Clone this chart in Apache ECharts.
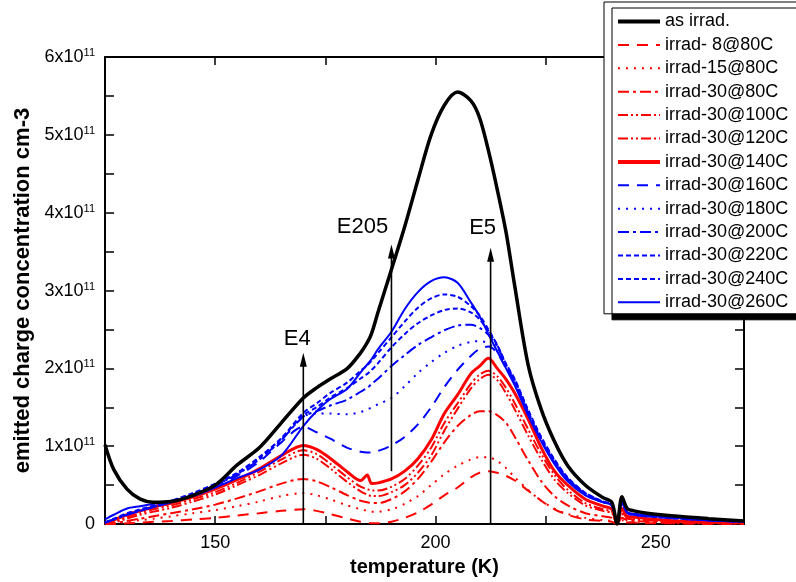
<!DOCTYPE html>
<html>
<head>
<meta charset="utf-8">
<script src="https://cdn.jsdelivr.net/npm/echarts@6/dist/echarts.min.js"></script>
<style>html,body{margin:0;padding:0;background:#fff;}#c{width:796px;height:582px;}</style>
</head>
<body>
<div id="c"></div>
<script>
var temperature = [125,127,130,133,136,140,145,150,155,160,165,170,173,176,180,183,184.5,185.5,187,190,193,196,199,202,205,208,210,212,214,216,218,221,224,227,230,234,238,240,241.2,242.3,243.5,245,248,255,262,270];

var asIrrad = [1.02,0.7,0.45,0.32,0.28,0.29,0.37,0.5,0.76,0.98,1.3,1.62,1.75,1.86,2.0,2.2,2.33,2.45,2.73,3.27,3.82,4.42,5.0,5.38,5.55,5.44,5.22,4.8,4.3,3.75,3.05,2.05,1.47,1.06,0.75,0.5,0.34,0.28,0.0,0.35,0.2,0.17,0.14,0.1,0.07,0.04];
var irrad8at80 = [0,0,0.01,0.02,0.03,0.04,0.06,0.08,0.11,0.14,0.17,0.19,0.17,0.13,0.07,0.03,0.02,0.01,0.01,0.03,0.08,0.15,0.25,0.37,0.47,0.6,0.66,0.68,0.66,0.62,0.56,0.43,0.3,0.19,0.12,0.06,0.04,0.03,0,0.03,0.02,0.02,0.01,0.01,0,0];
var irrad15at80 = [0,0.01,0.03,0.05,0.07,0.1,0.14,0.18,0.23,0.29,0.36,0.4,0.37,0.32,0.24,0.19,0.17,0.16,0.16,0.19,0.26,0.36,0.5,0.64,0.75,0.83,0.86,0.86,0.81,0.72,0.6,0.44,0.3,0.2,0.13,0.08,0.05,0.04,0,0.05,0.03,0.02,0.02,0.01,0.01,0];
var irrad30at80 = [0,0.01,0.04,0.07,0.1,0.14,0.19,0.25,0.33,0.42,0.52,0.58,0.55,0.48,0.37,0.3,0.28,0.27,0.27,0.32,0.42,0.58,0.8,1.05,1.26,1.4,1.45,1.45,1.4,1.3,1.12,0.82,0.55,0.36,0.24,0.14,0.1,0.08,0,0.08,0.05,0.04,0.03,0.02,0.01,0.01];
var irrad30at100 = [0,0.02,0.07,0.12,0.16,0.21,0.29,0.38,0.5,0.63,0.78,0.89,0.84,0.72,0.54,0.42,0.38,0.36,0.36,0.41,0.5,0.66,0.88,1.2,1.48,1.74,1.86,1.92,1.85,1.68,1.47,1.14,0.83,0.57,0.4,0.24,0.17,0.14,0,0.13,0.07,0.06,0.05,0.03,0.02,0.01];
var irrad30at120 = [0,0.03,0.09,0.14,0.19,0.24,0.32,0.41,0.53,0.67,0.83,0.95,0.9,0.78,0.6,0.48,0.45,0.43,0.43,0.48,0.58,0.75,0.98,1.3,1.55,1.8,1.92,1.97,1.9,1.75,1.55,1.22,0.9,0.63,0.44,0.27,0.19,0.16,0,0.15,0.08,0.07,0.05,0.03,0.02,0.01];
var irrad30at140 = [0,0.05,0.12,0.17,0.22,0.27,0.35,0.45,0.57,0.71,0.88,1.01,0.96,0.85,0.67,0.56,0.63,0.52,0.53,0.58,0.68,0.84,1.08,1.42,1.66,1.93,2.03,2.13,2.0,1.86,1.68,1.35,0.98,0.68,0.5,0.32,0.23,0.19,0,0.2,0.1,0.09,0.07,0.04,0.03,0.02];
var irrad30at160 = [0.02,0.06,0.12,0.17,0.22,0.28,0.38,0.49,0.62,0.8,1.05,1.25,1.18,1.1,0.98,0.93,0.92,0.92,0.94,1.01,1.12,1.28,1.5,1.76,1.98,2.16,2.25,2.28,2.2,2.0,1.8,1.42,1.07,0.79,0.57,0.38,0.28,0.24,0,0.28,0.14,0.12,0.1,0.07,0.05,0.03];
var irrad30at180 = [0.02,0.06,0.12,0.17,0.22,0.28,0.38,0.5,0.64,0.83,1.08,1.38,1.42,1.42,1.41,1.44,1.47,1.5,1.54,1.62,1.77,1.94,2.08,2.2,2.29,2.34,2.35,2.32,2.22,2.02,1.8,1.42,1.07,0.79,0.57,0.38,0.28,0.24,0,0.28,0.14,0.12,0.1,0.07,0.05,0.03];
var irrad30at200 = [0.02,0.06,0.12,0.17,0.22,0.28,0.38,0.5,0.64,0.83,1.08,1.38,1.45,1.52,1.6,1.7,1.75,1.8,1.87,2.03,2.17,2.3,2.4,2.49,2.55,2.56,2.52,2.43,2.28,2.04,1.82,1.43,1.08,0.8,0.58,0.39,0.28,0.25,0,0.28,0.14,0.12,0.1,0.07,0.05,0.03];
var irrad30at220 = [0.02,0.06,0.13,0.18,0.23,0.29,0.39,0.51,0.65,0.85,1.1,1.4,1.5,1.62,1.75,1.87,1.93,1.98,2.07,2.27,2.44,2.58,2.68,2.75,2.77,2.72,2.63,2.48,2.3,2.05,1.85,1.45,1.1,0.82,0.59,0.4,0.29,0.25,0,0.29,0.15,0.13,0.11,0.08,0.05,0.03];
var irrad30at240 = [0.02,0.07,0.14,0.19,0.24,0.3,0.4,0.52,0.66,0.86,1.1,1.43,1.55,1.68,1.82,1.97,2.04,2.1,2.2,2.4,2.6,2.78,2.9,2.95,2.92,2.8,2.68,2.5,2.3,2.06,1.86,1.47,1.12,0.83,0.6,0.4,0.29,0.25,0,0.29,0.15,0.13,0.11,0.08,0.05,0.03];
var irrad30at260 = [0.06,0.12,0.2,0.23,0.26,0.3,0.36,0.47,0.59,0.7,0.88,1.26,1.45,1.6,1.74,1.95,2.05,2.12,2.25,2.47,2.76,2.98,3.12,3.17,3.1,2.85,2.67,2.44,2.22,2.0,1.78,1.4,1.06,0.77,0.55,0.37,0.28,0.24,0,0.3,0.15,0.13,0.11,0.08,0.05,0.03];

var seriesNames = ['as irrad.','irrad- 8@80C','irrad-15@80C','irrad-30@80C','irrad-30@100C','irrad-30@120C','irrad-30@140C','irrad-30@160C','irrad-30@180C','irrad-30@200C','irrad-30@220C','irrad-30@240C','irrad-30@260C'];
var seriesValues = [asIrrad,irrad8at80,irrad15at80,irrad30at80,irrad30at100,irrad30at120,irrad30at140,irrad30at160,irrad30at180,irrad30at200,irrad30at220,irrad30at240,irrad30at260];

var xTickLabels = [150,200,250];
var arrowT = [170,190,212.5];
var arrowBase = [0,0.68,0];
var arrowTip = [2.2,3.59,3.55];
var arrowLabels = ['E4','E205','E5'];

var FONT = 'Liberation Sans, Arial, sans-serif';
var RED = '#ff0000', BLUE = '#0000ff', BLACK = '#000000';
var styles = [
  {color:BLACK, width:3.5, type:'solid', lw:4},
  {color:RED, width:2, type:[11,8], lw:2},
  {color:RED, width:2, type:[2,6], lw:2},
  {color:RED, width:2, type:[11,4,3,4], lw:2},
  {color:RED, width:2, type:[10,3,2,3,2,3], lw:2},
  {color:RED, width:2, type:[10,3,2,3,2,3], lw:2},
  {color:RED, width:3, type:'solid', lw:4},
  {color:BLUE, width:2, type:[11,8], lw:2},
  {color:BLUE, width:2, type:[2,6], lw:2},
  {color:BLUE, width:2, type:[11,4,3,4], lw:2},
  {color:BLUE, width:2, type:[5,3], lw:2},
  {color:BLUE, width:2, type:[5,3], lw:2},
  {color:BLUE, width:2, type:'solid', lw:2}
];
var labelOffsets = [[-6,-14],[-29,-18],[-8,-20]];

var series = seriesNames.map(function(name, i){
  return {
    name: name, type:'line', symbol:'none', smooth:0.3,
    data: temperature.map(function(t, j){ return [t, seriesValues[i][j]]; }),
    lineStyle:{color:styles[i].color, width:styles[i].width, type:styles[i].type},
    itemStyle:{color:styles[i].color},
    z: i===0 ? 3 : 2
  };
});
series.push({
  type:'custom', name:'arrows', z:5, clip:false,
  data: arrowT.map(function(t,i){ return [t, arrowBase[i], arrowTip[i], i]; }),
  renderItem: function(params, api){
    var x = api.value(0);
    var p0 = api.coord([x, api.value(1)]);
    var p1 = api.coord([x, api.value(2)]);
    var i = params.dataIndex;
    var off = labelOffsets[i];
    return {type:'group', children:[
      {type:'line', shape:{x1:p0[0], y1:p0[1], x2:p1[0], y2:p1[1]+10}, style:{stroke:BLACK, lineWidth:1.6}},
      {type:'polygon', shape:{points:[[p1[0],p1[1]],[p1[0]-3.5,p1[1]+14],[p1[0]+3.5,p1[1]+14]]}, style:{fill:BLACK}},
      {type:'text', x:p1[0]+off[0], y:p1[1]+off[1], style:{text:arrowLabels[i], fill:BLACK, font:'22px '+FONT, align:'center', verticalAlign:'middle'}}
    ]};
  }
});

var chart = echarts.init(document.getElementById('c'), null, {renderer:'canvas'});
chart.setOption({
  animation:false,
  backgroundColor:'#ffffff',
  textStyle:{fontFamily:FONT},
  grid:{left:105, right:52, top:57, bottom:57, containLabel:false},
  legend:{
    orient:'vertical', left:604, top:2,
    padding:[9,24,1,12],
    itemWidth:42, itemHeight:14, itemGap:2.4,
    backgroundColor:'#ffffff', borderColor:BLACK, borderWidth:1,
    shadowColor:BLACK, shadowBlur:0, shadowOffsetX:8, shadowOffsetY:6,
    itemStyle:{opacity:0, color:'rgba(0,0,0,0)', borderWidth:0},
    textStyle:{fontSize:18, color:BLACK, fontFamily:FONT, lineHeight:21},
    data: seriesNames.map(function(n,i){ return {name:n, lineStyle:{width:styles[i].lw}, itemStyle:{opacity:0, color:'rgba(0,0,0,0)', borderWidth:0}}; })
  },
  xAxis:[{
    type:'value', min:125, max:270, interval:25, position:'bottom',
    name:'temperature (K)', nameLocation:'middle', nameGap:32,
    nameTextStyle:{fontSize:20, fontWeight:'bold', color:BLACK, fontFamily:FONT},
    axisLine:{show:true, onZero:false, lineStyle:{color:BLACK, width:2}},
    axisTick:{show:true, inside:true, length:8, lineStyle:{color:BLACK, width:1.5}},
    axisLabel:{fontSize:18, color:BLACK, margin:10, formatter:function(v){ return xTickLabels.indexOf(v)>=0 ? String(v) : ''; }},
    splitLine:{show:false}
  },{
    type:'value', min:125, max:270, interval:25, position:'top',
    axisLine:{show:true, onZero:false, lineStyle:{color:BLACK, width:2}},
    axisTick:{show:true, inside:true, length:8, lineStyle:{color:BLACK, width:1.5}},
    axisLabel:{show:false}, splitLine:{show:false}
  }],
  yAxis:[{
    type:'value', min:0, max:6, interval:1, position:'left',
    name:'emitted charge concentration cm-3', nameLocation:'middle', nameGap:67,
    nameTextStyle:{fontSize:22, fontWeight:'bold', color:BLACK, fontFamily:FONT},
    axisLine:{show:true, onZero:false, lineStyle:{color:BLACK, width:2}},
    axisTick:{show:true, inside:true, length:9, lineStyle:{color:BLACK, width:1.5}},
    minorTick:{show:true, splitNumber:2, length:9, lineStyle:{color:BLACK, width:1.5}},
    axisLabel:{fontSize:18, color:BLACK, margin:10,
      formatter:function(v){ return v===0 ? '0' : v+'x10{s|11}'; },
      rich:{s:{fontSize:11, verticalAlign:'top', color:BLACK, padding:[0,0,8,0]}}},
    splitLine:{show:false}
  },{
    type:'value', min:0, max:6, interval:1, position:'right',
    axisLine:{show:true, onZero:false, lineStyle:{color:BLACK, width:2}},
    axisTick:{show:true, inside:true, length:9, lineStyle:{color:BLACK, width:1.5}},
    minorTick:{show:true, splitNumber:2, length:9, lineStyle:{color:BLACK, width:1.5}},
    axisLabel:{show:false}, splitLine:{show:false}
  }],
  series: series
});
</script>
</body>
</html>
